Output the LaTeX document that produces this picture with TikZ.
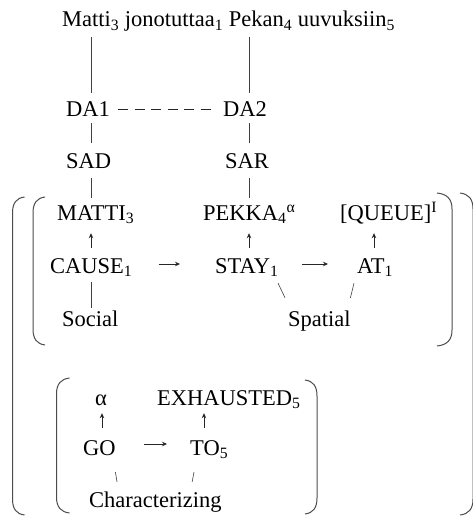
\documentclass[tikz,border=0pt]{standalone}
\usepackage{fontspec}
\setmainfont{Liberation Serif}
\usetikzlibrary{arrows.meta,calc}
\begin{document}
\begin{tikzpicture}[x=1pt,y=-1pt,
  lbl/.style={inner sep=0pt, anchor=base west, text height=15pt, text depth=0pt, font=\fontsize{22.5}{27}\selectfont},
  conn/.style={draw=black!75, line width=0.6pt},
  uparr/.style={draw=black!85, line width=0.8pt, -{Stealth[length=5pt,width=4.5pt]}},
  rarr/.style={draw=black!85, line width=0.9pt, -{Stealth[length=5pt,width=4.5pt]}},
  brk/.style={draw=black!70, line width=1pt},
  dsh/.style={draw=black!85, line width=0.8pt, dash pattern=on 10pt off 6.5pt}]
\useasboundingbox (0,0) rectangle (472,516);
\def\lbrkt#1#2#3#4{\draw[brk] ({#1+#4},#2) .. controls ({#1+#4/3},{#2+1}) and (#1,{#2+6}) .. (#1,{#2+16}) -- (#1,{#3-16}) .. controls (#1,{#3-6}) and ({#1+#4/3},{#3-1}) .. ({#1+#4},#3);}
\def\rbrkt#1#2#3#4{\draw[brk] ({#1-#4},#2) .. controls ({#1-#4/3},{#2+1}) and (#1,{#2+6}) .. (#1,{#2+16}) -- (#1,{#3-16}) .. controls (#1,{#3-6}) and ({#1-#4/3},{#3-1}) .. ({#1-#4},#3);}
% nodes
\node[lbl] (title) at (62,27) {Matti\textsubscript{3} jonotuttaa\textsubscript{1} Pekan\textsubscript{4} uuvuksiin\textsubscript{5}};
\node[lbl] (da1) at (66,117) {DA1};
\node[lbl] (da2) at (223,117) {DA2};
\node[lbl] (sad) at (66,168) {SAD};
\node[lbl] (sar) at (225,168) {SAR};
\node[lbl] (matti) at (57,220) {MATTI\textsubscript{3}};
\node[lbl] (pekka) at (203,220) {PEKKA\textsubscript{4}\textsuperscript{α}};
\node[lbl] (queue) at (340,220) {[QUEUE]\textsuperscript{I}};
\node[lbl] (cause) at (50,273.5) {CAUSE\textsubscript{1}};
\node[lbl] (stay) at (215,273.5) {STAY\textsubscript{1}};
\node[lbl] (at) at (357,273.5) {AT\textsubscript{1}};
\node[lbl] (social) at (62,326) {Social};
\node[lbl] (spatial) at (288,326) {Spatial};
\node[lbl] (alpha) at (95,405) {α};
\node[lbl] (exh) at (157,405) {EXHAUSTED\textsubscript{5}};
\node[lbl] (go) at (83,455) {GO};
\node[lbl] (to) at (190,455) {TO\textsubscript{5}};
\node[lbl] (char) at (89,507) {Characterizing};
% columns
\coordinate (cA) at (91,0);
\coordinate (cB) at (249,0);
\coordinate (cC) at (374,0);
\coordinate (cD) at (102,0);
\coordinate (cE) at (204,0);
% connectors
\draw[conn, shorten <=10pt, shorten >=9pt] (title.south -| cA) -- (da1.north -| cA);
\draw[conn, shorten <=10pt, shorten >=9pt] (title.south -| cB) -- (da2.north -| cB);
\draw[dsh] ([xshift=8pt]da1.east) -- ([xshift=-11pt]da2.west);
\draw[conn, shorten <=6pt, shorten >=10pt] (da1.south -| cA) -- (sad.north -| cA);
\draw[conn, shorten <=6pt, shorten >=10pt] (da2.south -| cB) -- (sar.north -| cB);
\draw[conn, shorten <=10pt, shorten >=7pt] (sad.south -| cA) -- (matti.north -| cA);
\draw[conn, shorten <=10pt, shorten >=7pt] (sar.south -| cB) -- (pekka.north -| cB);
\draw[uparr, shorten <=10.5pt, shorten >=13pt] (cause.north -| cA) -- (matti.south -| cA);
\draw[uparr, shorten <=10.5pt, shorten >=13pt] (stay.north -| cB) -- (pekka.south -| cB);
\draw[uparr, shorten <=10.5pt, shorten >=13pt] (at.north -| cC) -- (queue.south -| cC);
\draw[rarr] ([xshift=26pt,yshift=2pt]cause.east) -- ([xshift=-35pt,yshift=2pt]stay.west);
\draw[rarr] ([xshift=23.4pt,yshift=2pt]stay.east) -- ([xshift=-29pt,yshift=2pt]at.west);
\draw[conn, shorten <=8.5pt, shorten >=3pt] (cause.south -| cA) -- (social.north -| cA);
\draw[conn] ([xshift=-0.6pt,yshift=-9.5pt]stay.south east) -- ([xshift=-3pt,yshift=13pt]spatial.north west);
\draw[conn] ([xshift=-3pt,yshift=-9.5pt]at.south west) -- ([xshift=-0.5pt,yshift=13pt]spatial.north east);
\draw[uparr, shorten <=12pt, shorten >=8pt] (go.north -| cD) -- (alpha.south -| cD);
\draw[uparr, shorten <=12pt, shorten >=8pt] (to.north -| cE) -- (exh.south -| cE);
\draw[rarr] ([xshift=28.5pt,yshift=3.5pt]go.east) -- ([xshift=-23pt,yshift=3.5pt]to.west);
\draw[conn] ([xshift=-0.5pt,yshift=-17pt]go.south east) -- ([xshift=28pt,yshift=10pt]char.north west);
\draw[conn] ([xshift=4pt,yshift=-17pt]to.south west) -- ([xshift=36.75pt,yshift=10pt]char.north);
% brackets
\lbrkt{12.5}{197}{515}{12}
\lbrkt{33}{197}{345}{12}
\rbrkt{452}{193}{346}{15}
\rbrkt{473}{193}{515}{13}
\lbrkt{56.5}{378}{513}{13}
\rbrkt{317}{380}{514}{12}
\end{tikzpicture}
\end{document}
